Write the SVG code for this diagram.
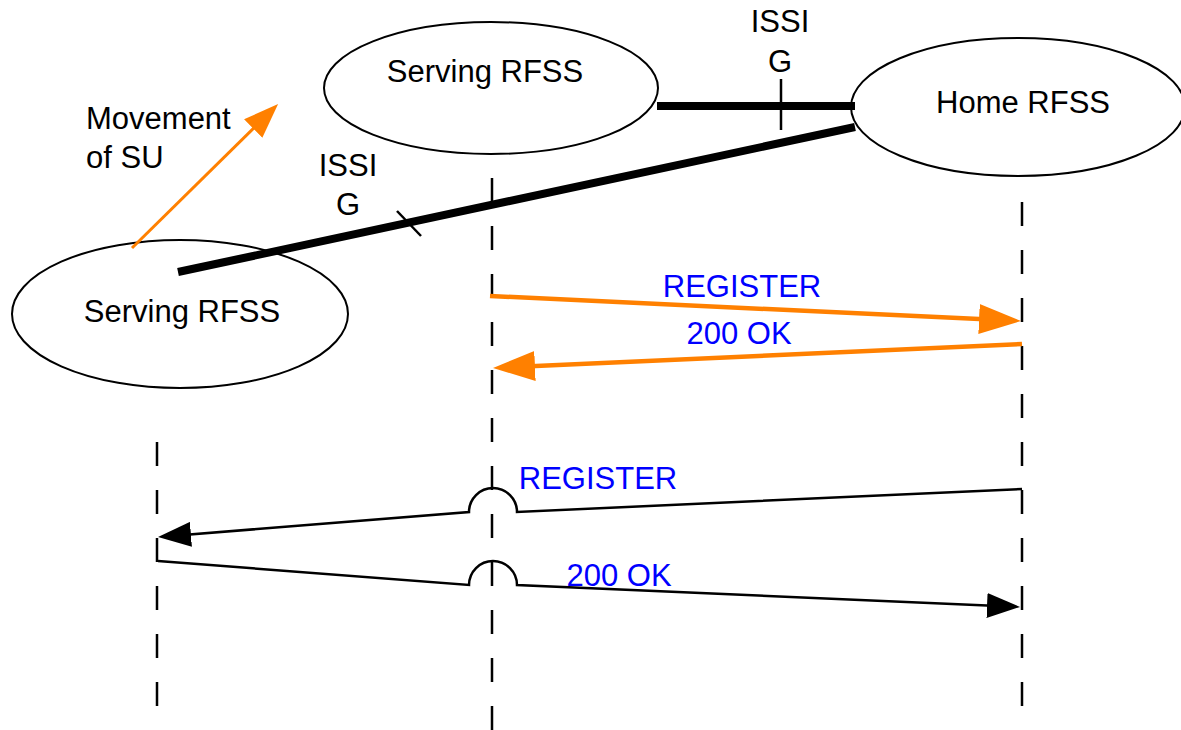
<svg xmlns="http://www.w3.org/2000/svg" width="1181" height="730" viewBox="0 0 1181 730">
<style>
.node ellipse{fill:#fff;stroke:#000;stroke-width:2}
text{font-family:"Liberation Sans",Arial,sans-serif;font-size:31px;fill:#000}
.c{text-anchor:middle}
.blue{fill:#0000ff}
.life{stroke:#000;stroke-width:2.5;stroke-dasharray:24 24;fill:none}
.trunk{stroke:#000;stroke-width:8;fill:none}
.tick{stroke:#000;stroke-width:2.5;fill:none}
.omsg{stroke:#ff8000;stroke-width:4.5;fill:none;marker-end:url(#ao)}
.bmsg{stroke:#000;stroke-width:2.5;fill:none;marker-end:url(#ab)}
.move{stroke:#ff8000;stroke-width:3;fill:none;marker-end:url(#am)}
</style>
<defs>
<marker id="ao" markerUnits="userSpaceOnUse" markerWidth="42" markerHeight="30" refX="32" refY="15" orient="auto"><path d="M0,0 L42,15 L0,30 z" fill="#ff8000"/></marker>
<marker id="ab" markerUnits="userSpaceOnUse" markerWidth="33" markerHeight="25" refX="23" refY="12.5" orient="auto"><path d="M0,0 L33,12.5 L0,25 z" fill="#000"/></marker>
<marker id="am" markerUnits="userSpaceOnUse" markerWidth="35" markerHeight="26" refX="25" refY="13" orient="auto"><path d="M0,0 L35,13 L0,26 z" fill="#ff8000"/></marker>
</defs>
<rect width="1181" height="730" fill="#fff"/>
<g id="lifelines">
<line class="life" x1="492" y1="178" x2="492" y2="730"/>
<line class="life" x1="1022" y1="202" x2="1022" y2="706"/>
<line class="life" x1="157" y1="442" x2="157" y2="706"/>
</g>
<g id="serving-top" class="node">
<ellipse cx="491" cy="88" rx="167" ry="66"/>
<text class="c" x="485" y="82">Serving RFSS</text>
</g>
<g id="home" class="node">
<ellipse cx="1018" cy="107" rx="167" ry="69"/>
<text class="c" x="1023" y="113">Home RFSS</text>
</g>
<g id="serving-bottom" class="node">
<ellipse cx="180" cy="314" rx="168" ry="74"/>
<text class="c" x="182" y="322">Serving RFSS</text>
</g>
<g id="connectors">
<line class="trunk" x1="657" y1="106" x2="855" y2="106"/>
<line class="tick" x1="781" y1="79" x2="781" y2="130"/>
<line class="trunk" x1="178" y1="272" x2="855" y2="127"/>
<line class="tick" x1="397" y1="211" x2="421" y2="236"/>
<line class="move" x1="132" y1="248" x2="271" y2="111"/>
<line class="omsg" x1="490" y1="296" x2="1011" y2="320.5"/>
<line class="omsg" x1="1022" y1="344" x2="503" y2="367.5"/>
<path class="bmsg" d="M1022,489 L517,512 A24,24 0 0 0 469,512 L168,536.2"/>
<path class="bmsg" d="M158,561 L469,585 A24,24 0 0 1 517,585 L1010,606.5"/>
</g>
<g id="labels">
<text class="c" x="780" y="32">ISSI</text>
<text class="c" x="780" y="72">G</text>
<text class="c" x="348" y="176">ISSI</text>
<text class="c" x="348" y="215">G</text>
<text x="86" y="129">Movement</text>
<text x="86" y="168">of SU</text>
<text class="c blue" x="742" y="297">REGISTER</text>
<text class="c blue" x="739" y="344">200 OK</text>
<text class="c blue" x="598" y="489">REGISTER</text>
<text class="c blue" x="619" y="586">200 OK</text>
</g>
</svg>
